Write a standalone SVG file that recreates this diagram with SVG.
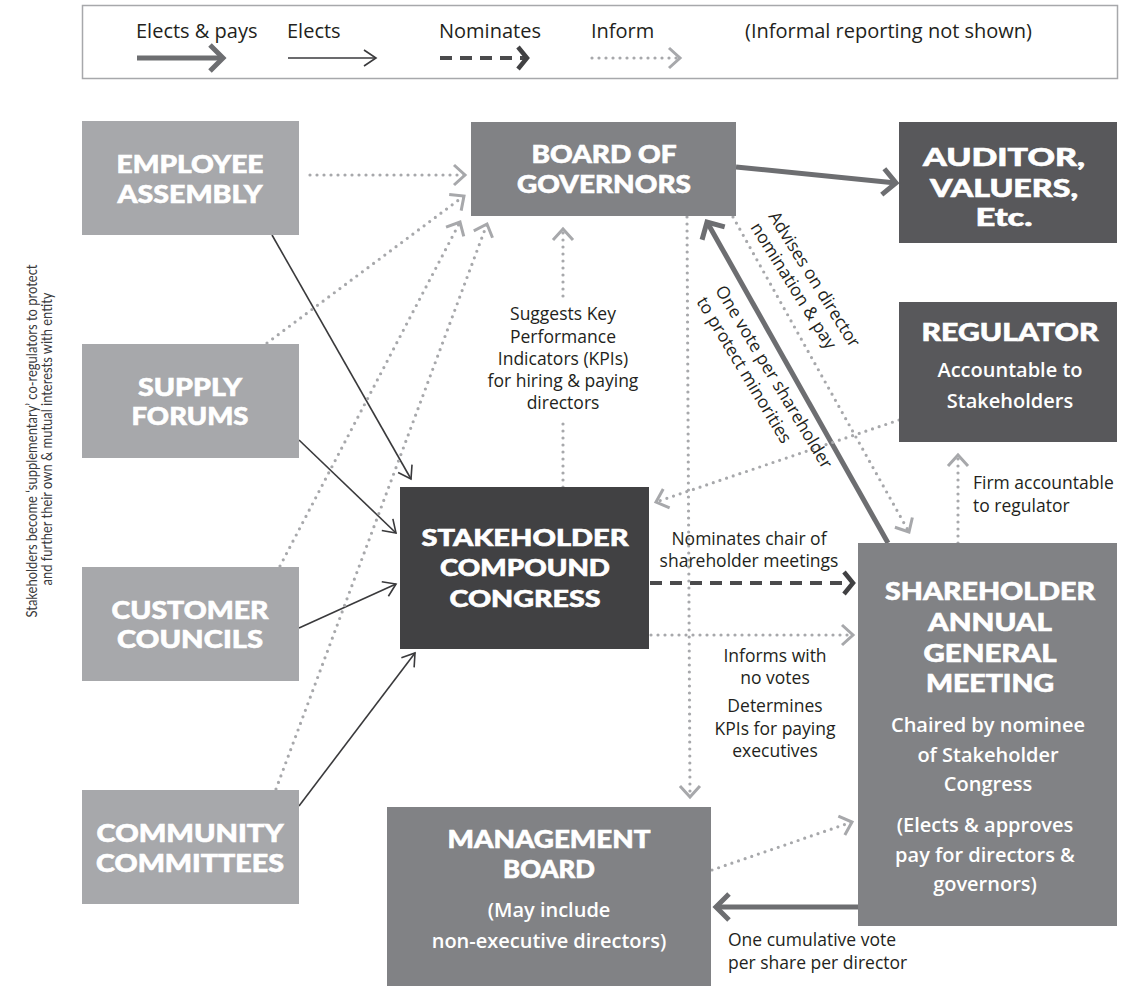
<svg xmlns="http://www.w3.org/2000/svg" width="1125" height="989" viewBox="0 0 1125 989">
<style>
.n-light{fill:#a7a8ab}
.n-mid{fill:#818285}
.n-dark{fill:#58585b}
.n-black{fill:#414143}
.t{font-family:"Lato","Open Sans",sans-serif;font-weight:900;fill:#fff;stroke:#fff;stroke-width:0.6;text-anchor:middle;font-size:24px}
.t22{font-size:22px}
.st{font-family:"Open Sans",sans-serif;font-weight:600;fill:#fff;text-anchor:middle;font-size:20px}
.lb{font-family:"Open Sans",sans-serif;font-size:17.5px;fill:#231f20}
.mid{text-anchor:middle}
.lg{font-family:"Open Sans",sans-serif;font-size:20px;fill:#231f20}
.side{font-family:"Lato","Open Sans",sans-serif;font-weight:400;font-size:15px;fill:#3a3a3c;text-anchor:middle}
.inform{stroke:#a7a8ab;stroke-width:3.2;stroke-dasharray:0 7;stroke-linecap:round;fill:none}
.im{marker-end:url(#mInf)}
.elect{stroke:#3a3a3c;stroke-width:1.6;fill:none;marker-end:url(#mEl)}
.elp{stroke:#6d6e71;stroke-width:5;fill:none;marker-end:url(#mElp)}
.nom{stroke:#4a4a4c;stroke-width:4;stroke-dasharray:12 8;fill:none;marker-end:url(#mNom)}
</style>
<defs>
<marker id="mInf" markerUnits="userSpaceOnUse" markerWidth="40" markerHeight="40" viewBox="-20 -20 40 40" refX="0" refY="0" orient="auto">
<path d="M-11,-10 L0,0 L-11,10" fill="none" stroke="#a7a8ab" stroke-width="3"/>
</marker>
<marker id="mEl" markerUnits="userSpaceOnUse" markerWidth="40" markerHeight="40" viewBox="-20 -20 40 40" refX="0" refY="0" orient="auto">
<path d="M-12,-8 L0,0 L-12,8" fill="none" stroke="#3a3a3c" stroke-width="1.6"/>
</marker>
<marker id="mElp" markerUnits="userSpaceOnUse" markerWidth="40" markerHeight="40" viewBox="-20 -20 40 40" refX="0" refY="0" orient="auto">
<path d="M-13,-13 L0,0 L-13,13" fill="none" stroke="#6d6e71" stroke-width="5"/>
</marker>
<marker id="mNom" markerUnits="userSpaceOnUse" markerWidth="40" markerHeight="40" viewBox="-20 -20 40 40" refX="0" refY="0" orient="auto">
<path d="M-9,-11 L0,0 L-9,11" fill="none" stroke="#414143" stroke-width="4.5"/>
</marker>
</defs>
<rect width="1125" height="989" fill="#fff"/>

<g id="legend">
<rect x="82.5" y="5.5" width="1035" height="73" fill="#fff" stroke="#a7a8ab" stroke-width="1.5"/>
<text class="lg" x="136" y="38">Elects &amp; pays</text>
<text class="lg" x="287" y="38">Elects</text>
<text class="lg" x="439" y="38">Nominates</text>
<text class="lg" x="591" y="38">Inform</text>
<text class="lg" x="745" y="38">(Informal reporting not shown)</text>
<path class="elp" d="M137,58 L223,58"/>
<path class="elect" d="M288,58 L376,58"/>
<path class="nom" d="M440,58 L527,58"/>
<path class="inform im" d="M592,58 L680,58"/>
</g>

<g id="side-note">
<text class="side" transform="translate(37,441) rotate(-90)" textLength="353" lengthAdjust="spacingAndGlyphs">Stakeholders become ‘supplementary’ co-regulators to protect</text>
<text class="side" transform="translate(52,439) rotate(-90)" textLength="293" lengthAdjust="spacingAndGlyphs">and further their own &amp; mutual interests with entity</text>
</g>

<g id="connectors">
<path class="elect" d="M272,235 L411,479"/>
<path class="elect" d="M299,440 L396,533"/>
<path class="elect" d="M299,628 L396,584"/>
<path class="elect" d="M299,806 L415,653"/>
<path class="elp" d="M736,167 L896,183"/>
<path class="elp" d="M888,543 L707,222"/>
<path class="elp" d="M858,907 L716,907"/>
<path class="nom" d="M650,583 L853,583"/>
<path class="inform im" d="M310,175 L465,175"/>
<path class="inform im" d="M267,343 L464,196"/>
<path class="inform im" d="M280,566 L460,222"/>
<path class="inform im" d="M276,789 L487,224"/>
<path class="inform" d="M563,487 L563,418"/>
<path class="inform im" d="M563,296 L563,229"/>
<path class="inform im" d="M687,217 L690,797"/>
<path class="inform im" d="M733,217 L909,532"/>
<path class="inform im" d="M899,420 L656,502"/>
<path class="inform im" d="M958,543 L958,455"/>
<path class="inform im" d="M651,635 L853,635"/>
<path class="inform im" d="M712,870 L852,822"/>
</g>

<g id="employee-assembly">
<rect class="n-light" x="82" y="121" width="217" height="114"/>
<text class="t" x="190" y="173" textLength="147" lengthAdjust="spacingAndGlyphs">EMPLOYEE</text>
<text class="t" x="190" y="203" textLength="145" lengthAdjust="spacingAndGlyphs">ASSEMBLY</text>
</g>
<g id="supply-forums">
<rect class="n-light" x="82" y="344" width="217" height="114"/>
<text class="t" x="190" y="396" textLength="104" lengthAdjust="spacingAndGlyphs">SUPPLY</text>
<text class="t" x="190" y="425" textLength="117" lengthAdjust="spacingAndGlyphs">FORUMS</text>
</g>
<g id="customer-councils">
<rect class="n-light" x="82" y="567" width="217" height="114"/>
<text class="t" x="190" y="619" textLength="157" lengthAdjust="spacingAndGlyphs">CUSTOMER</text>
<text class="t" x="190" y="648" textLength="146" lengthAdjust="spacingAndGlyphs">COUNCILS</text>
</g>
<g id="community-committees">
<rect class="n-light" x="82" y="790" width="217" height="114"/>
<text class="t" x="190" y="842" textLength="187" lengthAdjust="spacingAndGlyphs">COMMUNITY</text>
<text class="t" x="190" y="872" textLength="188" lengthAdjust="spacingAndGlyphs">COMMITTEES</text>
</g>
<g id="board-of-governors">
<rect class="n-mid" x="471" y="122" width="265" height="94"/>
<text class="t" x="604" y="163" textLength="145" lengthAdjust="spacingAndGlyphs">BOARD OF</text>
<text class="t" x="604" y="193" textLength="174" lengthAdjust="spacingAndGlyphs">GOVERNORS</text>
</g>
<g id="auditor">
<rect class="n-dark" x="899" y="122" width="218" height="121"/>
<text class="t" x="1004" y="166" textLength="162" lengthAdjust="spacingAndGlyphs">AUDITOR,</text>
<text class="t" x="1004" y="197" textLength="148" lengthAdjust="spacingAndGlyphs">VALUERS,</text>
<text class="t" x="1004" y="226" textLength="57" lengthAdjust="spacingAndGlyphs">Etc.</text>
</g>
<g id="regulator">
<rect class="n-dark" x="899" y="302" width="218" height="140"/>
<text class="t" x="1010" y="341" textLength="177" lengthAdjust="spacingAndGlyphs">REGULATOR</text>
<text class="st" x="1010" y="377">Accountable to</text>
<text class="st" x="1010" y="408">Stakeholders</text>
</g>
<g id="stakeholder-compound-congress">
<rect class="n-black" x="400" y="487" width="249" height="162"/>
<text class="t t22" x="525" y="546" textLength="207" lengthAdjust="spacingAndGlyphs">STAKEHOLDER</text>
<text class="t t22" x="525" y="576" textLength="170" lengthAdjust="spacingAndGlyphs">COMPOUND</text>
<text class="t t22" x="525" y="607" textLength="151" lengthAdjust="spacingAndGlyphs">CONGRESS</text>
</g>
<g id="shareholder-agm">
<rect class="n-mid" x="858" y="543" width="259" height="383"/>
<text class="t" x="990" y="600" textLength="210" lengthAdjust="spacingAndGlyphs">SHAREHOLDER</text>
<text class="t" x="990" y="631" textLength="124" lengthAdjust="spacingAndGlyphs">ANNUAL</text>
<text class="t" x="990" y="662" textLength="133" lengthAdjust="spacingAndGlyphs">GENERAL</text>
<text class="t" x="990" y="692" textLength="128" lengthAdjust="spacingAndGlyphs">MEETING</text>
<text class="st" x="988" y="732">Chaired by nominee</text>
<text class="st" x="988" y="762">of Stakeholder</text>
<text class="st" x="988" y="791">Congress</text>
<text class="st" x="985" y="832">(Elects &amp; approves</text>
<text class="st" x="985" y="862">pay for directors &amp;</text>
<text class="st" x="985" y="891">governors)</text>
</g>
<g id="management-board">
<rect class="n-mid" x="387" y="807" width="324" height="179"/>
<text class="t" x="549" y="848" textLength="203" lengthAdjust="spacingAndGlyphs">MANAGEMENT</text>
<text class="t" x="549" y="878" textLength="92" lengthAdjust="spacingAndGlyphs">BOARD</text>
<text class="st" x="549" y="917">(May include</text>
<text class="st" x="549" y="948">non-executive directors)</text>
</g>

<g id="connector-labels">
<text class="lb mid" x="563" y="320">Suggests Key</text>
<text class="lb mid" x="563" y="343">Performance</text>
<text class="lb mid" x="563" y="365">Indicators (KPIs)</text>
<text class="lb mid" x="563" y="387">for hiring &amp; paying</text>
<text class="lb mid" x="563" y="409">directors</text>
<text class="lb mid" x="749" y="545">Nominates chair of</text>
<text class="lb mid" x="749" y="567">shareholder meetings</text>
<text class="lb mid" x="775" y="662">Informs with</text>
<text class="lb mid" x="775" y="684">no votes</text>
<text class="lb mid" x="775" y="712">Determines</text>
<text class="lb mid" x="775" y="735">KPIs for paying</text>
<text class="lb mid" x="775" y="757">executives</text>
<text class="lb" x="973" y="489">Firm accountable</text>
<text class="lb" x="973" y="512">to regulator</text>
<text class="lb" x="728" y="946">One cumulative vote</text>
<text class="lb" x="728" y="969">per share per director</text>
<g transform="translate(773,213) rotate(58)">
<text class="lb" x="0" y="6">Advises on director</text>
<text class="lb" x="0" y="27">nomination &amp; pay</text>
</g>
<g transform="translate(720,287) rotate(59)">
<text class="lb" x="0" y="6">One vote per shareholder</text>
<text class="lb" x="0" y="28">to protect minorities</text>
</g>
</g>
</svg>
